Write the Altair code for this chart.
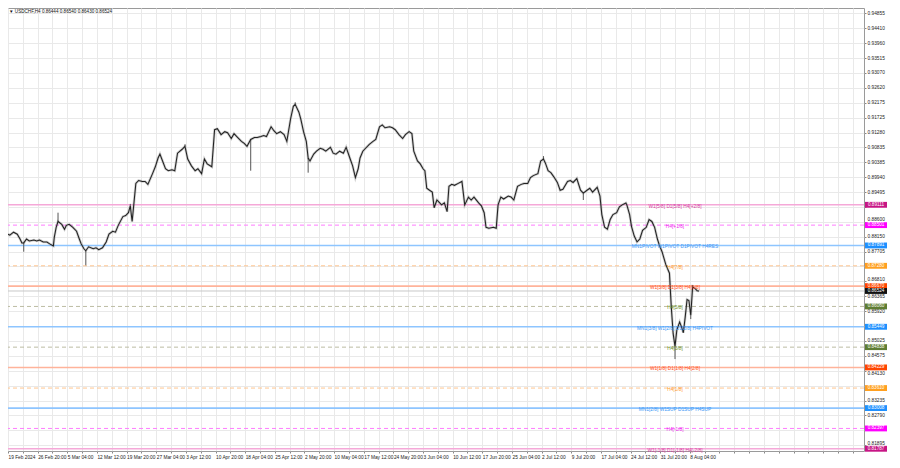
import json
import altair as alt
import pandas as pd

# ---------------- data ----------------
bars = [0, 2, 6, 10, 13, 15, 17, 20, 23, 28, 31, 34, 38, 42, 45, 49, 50, 52, 54, 58, 61, 63, 66, 70, 74, 77, 79, 82, 84, 87,
        92, 95, 98, 102, 106, 109, 113, 116, 119, 124, 127, 130, 132, 134, 138, 141, 145, 148, 151, 156, 159, 162, 164, 166,
        170, 173, 177, 180, 183, 188, 191, 194, 198, 202, 205, 209, 212, 215, 220, 223, 226, 230, 234, 237, 241, 244, 247,
        252, 255, 258, 262, 266, 269, 273, 276, 279, 284, 287, 290, 294, 298, 301, 305, 308, 310, 314, 316, 319, 322, 324,
        326, 330, 333, 337, 340, 343, 348, 351, 354, 358, 362, 365, 369, 372, 375, 378, 380, 383, 386, 390, 394, 397, 401,
        404, 407, 412, 415, 418, 422, 426, 429, 433, 436, 438, 442, 445, 448, 450, 452, 455, 458, 460, 463, 466, 468, 471,
        474, 476, 479, 482, 486, 490, 493, 497, 500, 503, 508, 511, 514, 516, 519, 524, 527, 529, 532, 535, 540, 543, 546,
        550, 554, 557, 561, 564, 567, 572, 575, 578, 580, 583, 586, 589, 593, 596, 599, 604, 607, 610, 614, 618, 621, 625,
        628, 631, 636, 639, 641, 644, 647, 650, 653, 657, 660, 663, 667, 668, 671, 673, 676, 679, 682, 685, 689, 692, 695,
        698, 701, 703, 706, 710, 714, 716, 718, 720, 722, 725, 727, 729, 731, 733, 735, 737, 739, 742, 744, 746]
close = [0.88230, 0.88201, 0.88289, 0.88230, 0.88084, 0.87967, 0.87967, 0.88084, 0.88025, 0.88055, 0.88025, 0.88055,
         0.87996, 0.87996, 0.87938, 0.87879, 0.88143, 0.88436, 0.88611, 0.88524, 0.88377, 0.88494, 0.88524, 0.88436,
         0.88318, 0.88084, 0.87938, 0.87791, 0.87732, 0.87850, 0.87791, 0.87820, 0.87762, 0.87820, 0.87996, 0.88230,
         0.88318, 0.88289, 0.88494, 0.88758, 0.88787, 0.88875, 0.89080, 0.88611, 0.89754, 0.89842, 0.89813, 0.89813,
         0.89725, 0.90047, 0.90252, 0.90516, 0.90633, 0.90486, 0.90193, 0.90135, 0.90164, 0.90135, 0.90662, 0.90779,
         0.90867, 0.90486, 0.90281, 0.90135, 0.90193, 0.90047, 0.90486, 0.90340, 0.90252, 0.91365, 0.91395, 0.91219,
         0.91307, 0.91277, 0.91102, 0.91248, 0.91160, 0.91014, 0.90955, 0.90867, 0.91072, 0.91131, 0.91131, 0.91160,
         0.91190, 0.91160, 0.91453, 0.91336, 0.91248, 0.91307, 0.91219, 0.91014, 0.91688, 0.92069, 0.92127, 0.91893,
         0.91688, 0.91307, 0.91014, 0.90516, 0.90428, 0.90633, 0.90721, 0.90809, 0.90779, 0.90721, 0.90838, 0.90662,
         0.90633, 0.90721, 0.90662, 0.90838, 0.90516, 0.90281, 0.89930, 0.90193, 0.90516, 0.90721, 0.90809, 0.90926,
         0.91014, 0.91072, 0.91453, 0.91512, 0.91424, 0.91453, 0.91424, 0.91365, 0.91219, 0.91102, 0.91219, 0.91307,
         0.91248, 0.90721, 0.90428, 0.90340, 0.90193, 0.90135, 0.89608, 0.89549, 0.89491, 0.89022, 0.89256, 0.89168,
         0.89110, 0.89168, 0.88905, 0.89666, 0.89725, 0.89696, 0.89754, 0.89813, 0.89110, 0.89344, 0.89256, 0.89344,
         0.89168, 0.89080, 0.88875, 0.88436, 0.88406, 0.88436, 0.88406, 0.89110, 0.89344, 0.89285, 0.89373, 0.89344,
         0.89256, 0.89666, 0.89725, 0.89754, 0.89754, 0.89930, 0.89988, 0.90047, 0.90428, 0.90486, 0.90369, 0.90135,
         0.90076, 0.89959, 0.89783, 0.89549, 0.89578, 0.89813, 0.89842, 0.89783, 0.89900, 0.89549, 0.89461, 0.89549,
         0.89608, 0.89491, 0.89637, 0.89373, 0.88817, 0.88436, 0.88377, 0.88670, 0.88817, 0.88875, 0.89051, 0.89110,
         0.89168, 0.89110, 0.88817, 0.88465, 0.88172, 0.87996, 0.88084, 0.88348, 0.88436, 0.88670, 0.88611, 0.88436,
         0.88084, 0.87908, 0.87703, 0.87322, 0.87058, 0.86033, 0.85242, 0.84861, 0.85359, 0.85593, 0.85447, 0.85271,
         0.85740, 0.86267, 0.86238, 0.85798, 0.86648, 0.86589, 0.86531, 0.86524]

wick_bar = [17, 54, 84, 132, 191, 262, 310, 324, 578, 621, 720, 737, 739]
wick_hi = [0.87967, 0.88875, 0.87732, 0.89139, 0.90926, 0.91072, 0.92186, 0.90516, 0.90574, 0.89461, 0.84861, 0.85798, 0.86706]
wick_lo = [0.87703, 0.88611, 0.87293, 0.89080, 0.90867, 0.90135, 0.92127, 0.90076, 0.90486, 0.89256, 0.84480, 0.85681, 0.86648]

level_price = [0.89111, 0.88501, 0.87891, 0.87280, 0.86670, 0.86060, 0.85449, 0.84838, 0.84229, 0.83610, 0.83008,
               0.82397, 0.81787]
level_label = ["W1[5/8] D1[5/8] H4[+2/8]", "H4[+1/8]", "MN1PIVOT W1PIVOT D1PIVOT H4RES", "H4[7/8]",
               "W1[3/8] D1[3/8] H4[6/8]", "H4[5/8]", "MN1[3/8] W1[2/8] D1[2/8] H4PIVOT", "H4[3/8]",
               "W1[1/8] D1[1/8] H4[2/8]", "H4[1/8]", "MN1[2/8] W1SUP D1SUP H4SUP", "H4[-1/8]",
               "W1[-1/8] D1[-1/8] H4[-2/8]"]
level_kind = ["violet", "magenta", "pivot", "orange", "red", "olive", "pivot", "olive", "red", "orange", "pivot",
              "magenta", "violet"]
label_bar = 720

last_price = 0.86524
title_text = "\u25bc USDCHF,H4  0.86444 0.86540 0.86430 0.86524"

y_ticks = [0.94855, 0.94410, 0.93960, 0.93515, 0.93070, 0.92620, 0.92175, 0.91725, 0.91280, 0.90835, 0.90385,
           0.89940, 0.89495, 0.89050, 0.88600, 0.88150, 0.87705, 0.87260, 0.86810, 0.86365, 0.85920, 0.85470,
           0.85025, 0.84575, 0.84130, 0.83680, 0.83235, 0.82790, 0.82340, 0.81895]
# tick labels that the price boxes cover completely in the reference
y_hidden = [0.89050, 0.87260, 0.85470, 0.83680, 0.82340]
# tick labels that peek out above / below a neighbouring price box
y_above = [0.88600, 0.86810, 0.81895]
y_below = [0.84130]
x_labels = ["19 Feb 2024", "26 Feb 20:00", "5 Mar 04:00", "12 Mar 12:00", "19 Mar 20:00", "27 Mar 04:00",
            "3 Apr 12:00", "10 Apr 20:00", "18 Apr 04:00", "25 Apr 12:00", "2 May 20:00", "10 May 04:00",
            "17 May 12:00", "24 May 20:00", "3 Jun 04:00", "10 Jun 12:00", "17 Jun 20:00", "25 Jun 04:00",
            "2 Jul 12:00", "9 Jul 20:00", "17 Jul 04:00", "24 Jul 12:00", "31 Jul 20:00", "8 Aug 04:00"]
bars_per_label = 32

# ---------------- styles ----------------
line_col = {"violet": "#f5a8d8", "magenta": "#ff7dff", "pivot": "#8ec5ff", "orange": "#ffc58f",
            "red": "#ffb39a", "olive": "#bdbda3"}
text_col = {"violet": "#d63c9e", "magenta": "#ee22ee", "pivot": "#3d97f5", "orange": "#ff9a2e",
            "red": "#ff4f22", "olive": "#6b8e23"}
box_col = {"violet": "#c71585", "magenta": "#ff00ff", "pivot": "#1e90ff", "orange": "#ffa020",
           "red": "#ff4500", "olive": "#5f7d33"}
dashed = {"violet": False, "magenta": True, "pivot": False, "orange": True, "red": False, "olive": True}

W, H = 856, 443
FONT = "Liberation Sans"

price_df = pd.DataFrame({"bar": bars, "p": close})
wick_df = pd.DataFrame({"bar": wick_bar, "hi": wick_hi, "lo": wick_lo})
lev_df = pd.DataFrame({
    "p": level_price,
    "label": level_label,
    "lc": [line_col[k] for k in level_kind],
    "tc": [text_col[k] for k in level_kind],
    "bc": [box_col[k] for k in level_kind],
    "dash": [dashed[k] for k in level_kind],
})
box_df = pd.concat([
    lev_df[["p", "bc"]],
    pd.DataFrame({"p": [last_price], "bc": ["#111111"]}),
], ignore_index=True)

x_scale = alt.Scale(domain=[0, 924], nice=False, zero=False)
y_scale = alt.Scale(domain=[0.8172, 0.9502], nice=False, zero=False)


def in_list(vals):
    return " || ".join(f"abs(datum.value - {v}) < 0.000001" for v in vals)


x_vals = list(range(0, 921, 16))
lab_arr = json.dumps(x_labels)
x_axis = alt.Axis(
    values=x_vals, tickCount=500, grid=True, gridColor="#e9e9e9", gridWidth=1, domain=False,
    tickSize=2, tickColor="#888", labelFontSize=4.8, labelFont=FONT, labelColor="#222",
    labelAlign="left", labelPadding=1, labelOverlap=False, labelBound=False, labelFlush=False,
    labelExpr=f"(datum.value % {bars_per_label} == 0 && datum.value / {bars_per_label} < {len(x_labels)}) ? "
              f"{lab_arr}[datum.value / {bars_per_label}] : ''",
    title=None,
)
y_axis = alt.Axis(
    orient="right", values=y_ticks, tickCount=500, grid=True, gridColor="#e9e9e9", gridWidth=1, domain=False,
    tickSize=2, tickColor="#888", labelFontSize=4.8, labelFont=FONT, labelColor="#222",
    labelPadding=1, labelOverlap=False, labelBound=False, labelFlush=False,
    labelBaseline={"condition": {"test": in_list(y_above), "value": "bottom"}, "value": "middle"},
    labelOffset={"condition": {"test": in_list(y_below), "value": 3}, "value": 0},
    labelExpr=f"({in_list(y_hidden)}) ? '' : format(datum.value, '.5f')",
    title=None,
)

X = lambda f: alt.X(f, type="quantitative", scale=x_scale)
Y = lambda f: alt.Y(f, type="quantitative", scale=y_scale)

base_grid = alt.Chart(price_df).mark_line(opacity=0).encode(
    x=alt.X("bar:Q", scale=x_scale, axis=x_axis),
    y=alt.Y("p:Q", scale=y_scale, axis=y_axis),
)

solid = alt.Chart(lev_df).transform_filter("!datum.dash").mark_rule(strokeWidth=1.6).encode(
    y=Y("p"), color=alt.Color("lc:N", scale=None))
dash = alt.Chart(lev_df).transform_filter("datum.dash").mark_rule(strokeWidth=1, strokeDash=[4, 3]).encode(
    y=Y("p"), color=alt.Color("lc:N", scale=None))
last_line = alt.Chart(pd.DataFrame({"p": [last_price]})).mark_rule(strokeWidth=1, color="#c8c8c8").encode(y=Y("p"))

halo = alt.Chart(price_df).mark_line(strokeWidth=2.6, color="#777", opacity=0.35, clip=True).encode(
    x=X("bar"), y=Y("p"))
wicks = alt.Chart(wick_df).mark_rule(strokeWidth=1, color="#555").encode(x=X("bar"), y=Y("hi"), y2="lo:Q")
line = alt.Chart(price_df).mark_line(strokeWidth=1.05, color="#222", clip=True).encode(x=X("bar"), y=Y("p"))

lev_text = alt.Chart(lev_df).mark_text(fontSize=4.8, font=FONT, align="center", baseline="middle", dy=2).encode(
    x=alt.X(datum=label_bar, type="quantitative", scale=x_scale),
    y=Y("p"), text="label:N", color=alt.Color("tc:N", scale=None))

boxes = alt.Chart(box_df).transform_calculate(top="datum.p + 0.00088", bot="datum.p - 0.00088").mark_rect().encode(
    x=alt.value(W + 1), x2=alt.value(W + 23), y=Y("top"), y2="bot:Q", color=alt.Color("bc:N", scale=None))
box_text = alt.Chart(box_df).mark_text(fontSize=4.6, font=FONT, color="white", align="center",
                                       baseline="middle").encode(
    x=alt.value(W + 12), y=Y("p"), text=alt.Text("p:Q", format=".5f"))

title = alt.Chart(pd.DataFrame({"t": [title_text]})).mark_text(
    fontSize=4.6, font=FONT, color="#111", align="left", baseline="middle").encode(
    x=alt.value(1), y=alt.value(4), text="t:N")

chart = alt.layer(base_grid, solid, dash, last_line, halo, wicks, line, lev_text, boxes, box_text, title).properties(
    width=W, height=H, background="white",
    autosize=alt.AutoSizeParams(type="none"),
    padding={"left": 0, "top": 0, "right": 28, "bottom": 9},
).configure_view(stroke="#9a9a9a", strokeWidth=1)

chart.save("out.html", embed_options={"renderer": "svg", "actions": False})
